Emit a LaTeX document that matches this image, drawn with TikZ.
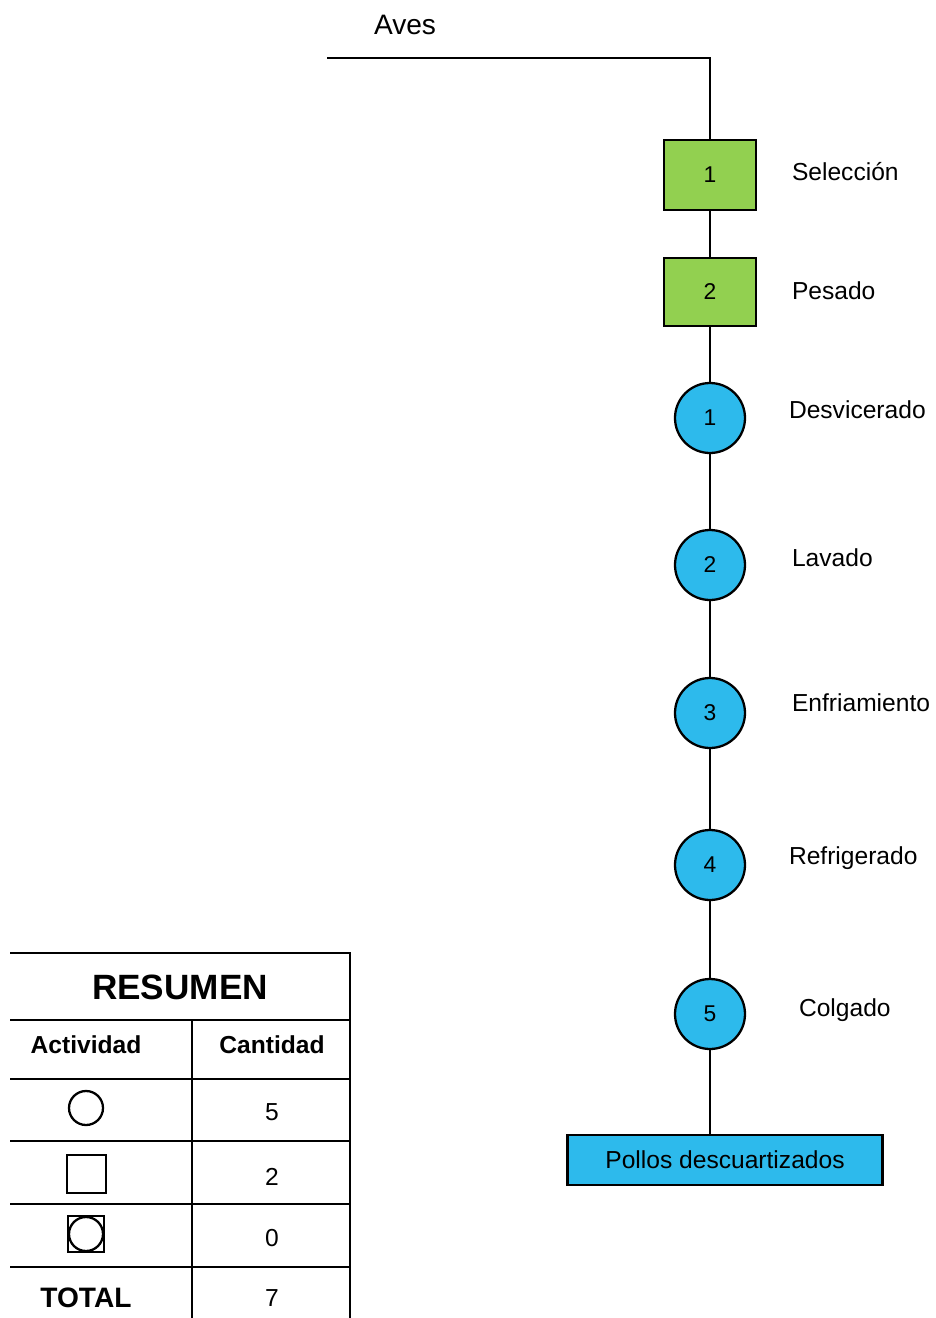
\documentclass[tikz,border=0pt]{standalone}
\usepackage{fontspec}
\setmainfont{Liberation Sans}
\usetikzlibrary{positioning}
\definecolor{OpGreen}{RGB}{146,208,80}
\definecolor{OpBlue}{RGB}{45,186,236}

\begin{document}
\begin{tikzpicture}[x=0.02cm,y=-0.02cm,line width=1.3pt]
      \tikzset{
        operacion/.style={draw,fill=OpBlue,circle,minimum size=1.4cm,inner sep=0pt,font=\fontsize{13}{15}\selectfont},
        inspeccion/.style={draw,fill=OpGreen,minimum width=1.84cm,minimum height=1.4cm,inner sep=0pt,font=\fontsize{13}{15}\selectfont},
        etiqueta/.style={anchor=west,font=\fontsize{14}{16}\selectfont},
        celda/.style={font=\fontsize{14}{16}\selectfont}
      }
      \useasboundingbox (0,0) rectangle (936,1318);
      % entrada
      \node[font=\fontsize{16}{18}\selectfont] (aves) at (405,25) {Aves};
      \coordinate (inicio) at (327,58);
      \coordinate (codo) at (710,58);
      % actividades
      \node[inspeccion] (i1) at (710,175) {1};
      \node[inspeccion,minimum height=1.36cm] (i2) at (710,292) {2};
      \node[operacion] (o1) at (710,418) {1};
      \node[operacion] (o2) at (710,565) {2};
      \node[operacion] (o3) at (710,713) {3};
      \node[operacion] (o4) at (710,865) {4};
      \node[operacion] (o5) at (710,1014) {5};
      \node[draw,fill=OpBlue,minimum width=6.3cm,minimum height=1cm,inner sep=0pt,
            font=\fontsize{14}{16}\selectfont] (fin) at (725,1160) {Pollos descuartizados};
      \draw (inicio) -- (codo) -- (i1.north);
      \draw (i1) -- (i2) -- (o1) -- (o2) -- (o3) -- (o4) -- (o5);
      \draw (o5) -- (o5 |- fin.north);
      % nombres
      \node[etiqueta] (n1) at (785,172) {Selección};
      \node[etiqueta] (n2) at (785,291) {Pesado};
      \node[etiqueta] (n3) at (782,410) {Desvicerado};
      \node[etiqueta] (n4) at (785,558) {Lavado};
      \node[etiqueta] (n5) at (785,703) {Enfriamiento};
      \node[etiqueta] (n6) at (782,858) {Refrigerado};
      \node[etiqueta] (n7) at (792,1010) {Colgado};
      % resumen
      \draw (10,953) -- (350,953) -- (350,1318);
      \foreach \y in {1020,1079,1141,1204,1267}
        \draw (10,\y) -- (350,\y);
      \draw (192,1020) -- (192,1318);
      \node[font=\fontsize{20}{24}\selectfont\bfseries] (titulo) at (180,987) {RESUMEN};
      \node[celda,font=\fontsize{14}{16}\selectfont\bfseries] (act) at (86,1045) {Actividad};
      \node[celda,font=\fontsize{14}{16}\selectfont\bfseries] (cant) at (272,1045) {Cantidad};
      \draw (86,1108) circle (17);
      \node[celda] (c1) at (272,1112) {5};
      \draw (67,1155) rectangle (106,1193);
      \node[celda] (c2) at (272,1177) {2};
      \draw (68,1216) rectangle (104,1252);
      \draw (86,1234) circle (17);
      \node[celda] (c3) at (272,1238) {0};
      \node[celda,font=\fontsize{16}{18}\selectfont\bfseries] (total) at (86,1298) {TOTAL};
      \node[celda] (c4) at (272,1298) {7};
    \end{tikzpicture}
\end{document}
